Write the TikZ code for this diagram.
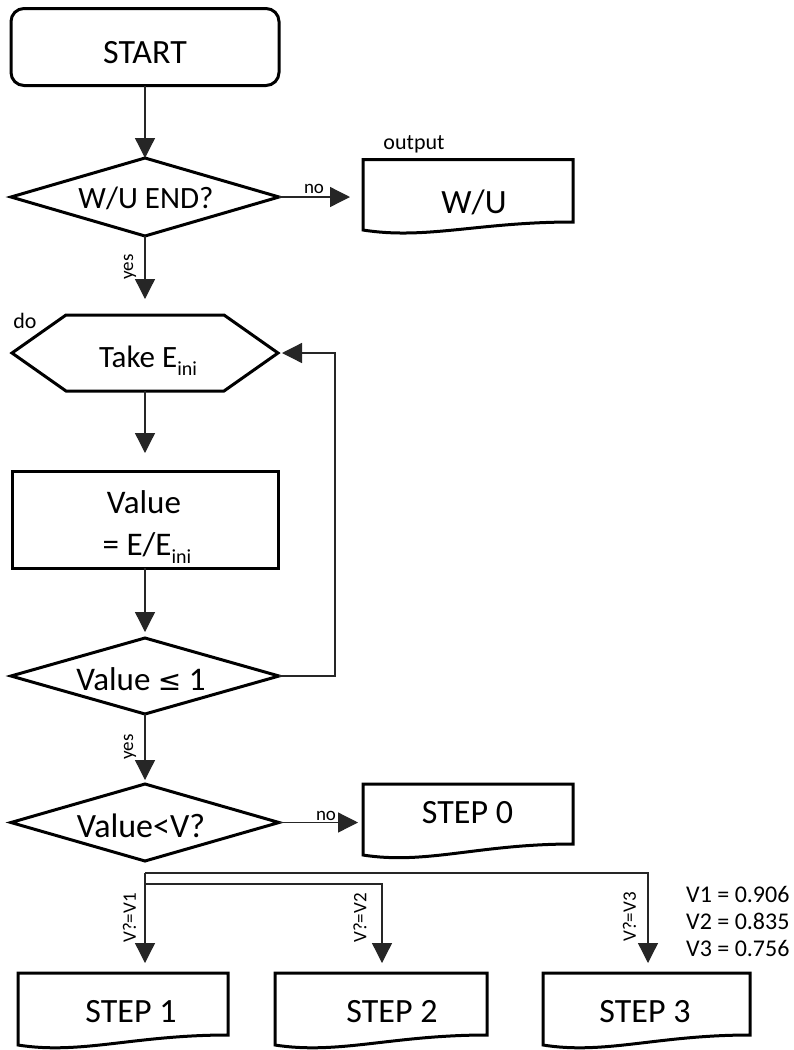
\documentclass[tikz,border=0pt]{standalone}
\usepackage{fontspec}
\setmainfont{Carlito}
\usetikzlibrary{arrows.meta}
\newcommand\fs[1]{\fontsize{#1}{#1}\selectfont}
\newcommand\subini{\raisebox{-8pt}{\fs{20}ini}}
\newcommand\docpath[5]{\draw[shp] (#1,#2) -- (#3,#2) -- (#3,#5) .. controls ({#1+0.55*(#3-#1)},#5) and ({#1+0.3*(#3-#1)},{#4+10}) .. (#1,#4) -- cycle;}
\begin{document}
\begin{tikzpicture}[x=1pt,y=-1pt,
  shp/.style={line width=3pt, draw=black},
  conn/.style={line width=1.3pt, draw=black!85, -{Triangle[length=20pt,width=20pt]}},
  big/.style={inner sep=0pt, anchor=base, font=\fs{33}},
  lbl/.style={inner sep=0pt, font=\fs{19}},
]
\useasboundingbox (0,0) rectangle (794,1050);
\fill[white] (0,0) rectangle (794,1050);

% START
\node[shp, rounded corners=13pt, minimum width=268pt, minimum height=77pt, outer sep=0pt, inner sep=0pt] (start) at (145,47) {};
\node[big, font=\fs{34}] (tstart) at (145,63) {START};

% Decision 1
\coordinate (d1n) at (145,158); \coordinate (d1e) at (279,197);
\coordinate (d1s) at (145,236); \coordinate (d1w) at (11,197);
\draw[shp] (d1n) -- (d1e) -- (d1s) -- (d1w) -- cycle;
\node[big, font=\fs{31}] (td1) at (146,208) {W/U END?};

% Output W/U
\docpath{363}{159.5}{573}{230}{222}
\coordinate (wuw) at (363,197);
\node[big, font=\fs{34}] (twu) at (474,213) {W/U};
\node[inner sep=0pt, anchor=base, font=\fs{22}] (tout) at (414,149) {output};

% Hexagon
\coordinate (hw) at (12,353); \coordinate (hnw) at (66,315); \coordinate (hne) at (224,315);
\coordinate (he) at (278,353); \coordinate (hse) at (224,391); \coordinate (hsw) at (66,391);
\coordinate (hn) at (145,315); \coordinate (hs) at (145,391);
\draw[shp] (hw) -- (hnw) -- (hne) -- (he) -- (hse) -- (hsw) -- cycle;
\node[big, font=\fs{31}] (thex) at (148,367) {Take E\subini};
\node[inner sep=0pt, anchor=base, font=\fs{22}] (tdo) at (25,328) {do};

% Value box
\node[shp, minimum width=266pt, minimum height=97pt, outer sep=0pt, inner sep=0pt] (val) at (145,519.5) {};
\node[big] (tval1) at (144,513) {Value};
\node[big] (tval2) at (147,555) {= E/E\subini};

% Decision 2
\coordinate (d2n) at (145,638); \coordinate (d2e) at (279,676);
\coordinate (d2s) at (145,714); \coordinate (d2w) at (11,676);
\draw[shp] (d2n) -- (d2e) -- (d2s) -- (d2w) -- cycle;
\node[big] (td2) at (141,690) {Value {\fontspec{DejaVu Sans}\fs{28}≤} 1};

% Decision 3
\coordinate (d3n) at (145,784); \coordinate (d3e) at (279,822.5);
\coordinate (d3s) at (145,861); \coordinate (d3w) at (11,822.5);
\draw[shp] (d3n) -- (d3e) -- (d3s) -- (d3w) -- cycle;
\node[big, font=\fs{34}] (td3) at (141,837) {Value<V?};

% STEP 0
\docpath{363}{784}{573}{855}{844}
\coordinate (s0w) at (363,822.5);
\node[big, font=\fs{34}] (ts0) at (467.5,823) {STEP 0};

% STEP 1-3
\docpath{18}{973}{228}{1045}{1035}
\docpath{275}{973}{487}{1045}{1035}
\docpath{543}{973}{750}{1045}{1035}
\coordinate (s1n) at (145,973); \coordinate (s2n) at (382,973); \coordinate (s3n) at (648,973);
\node[big, font=\fs{34}] (ts1) at (131,1022) {STEP 1};
\node[big, font=\fs{34}] (ts2) at (392,1022) {STEP 2};
\node[big, font=\fs{34}] (ts3) at (645,1022) {STEP 3};

% V values
\node[inner sep=0pt, anchor=base west, font=\fs{24}] (v1) at (686,902) {V1 = 0.906};
\node[inner sep=0pt, anchor=base west, font=\fs{24}] (v2) at (686,929) {V2 = 0.835};
\node[inner sep=0pt, anchor=base west, font=\fs{24}] (v3) at (686,956) {V3 = 0.756};

% Connectors
\draw[conn] (start.south) -- (d1n);
\draw[conn, shorten >=13pt] (d1e) -- (wuw);
\draw[conn, shorten >=16pt] (d1s) -- (hn);
\draw[conn, shorten >=18pt] (hs) -- (val.north);
\draw[conn, shorten >=6pt] (val.south) -- (d2n);
\draw[conn, shorten >=4pt] (d2s) -- (d3n);
\draw[conn, shorten >=4pt] (d2e) -- ++(56,0) |- (he);
\draw[conn, shorten >=5pt] (d3e) -- (s0w);
\coordinate (split) at (145,873);
\coordinate (split2) at (145,884);
\draw[conn, shorten >=10pt] (split) -- (s1n);
\draw[conn, shorten >=10pt] (split) -| (s3n);
\draw[conn, shorten >=10pt] (split2) -| (s2n);

% Labels
\node[lbl, anchor=base] (lno1) at (314,193) {no};
\node[lbl, anchor=base] (lno2) at (326,820) {no};
\node[lbl, rotate=90] (lyes1) at (130,267) {yes};
\node[lbl, rotate=90] (lyes2) at (130,747) {yes};
\node[lbl, rotate=90] (lv1) at (129.5,918) {V?=V1};
\node[lbl, rotate=90] (lv2) at (360,918) {V?=V2};
\node[lbl, rotate=90] (lv3) at (629.5,917) {V?=V3};
\end{tikzpicture}
\end{document}
